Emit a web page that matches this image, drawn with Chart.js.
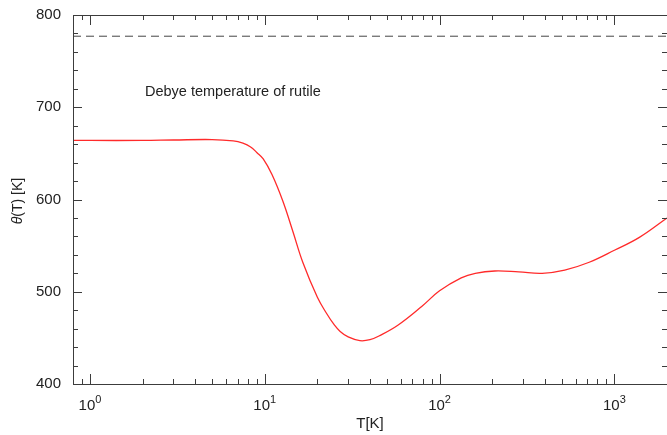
<!DOCTYPE html>
<html>
<head>
<meta charset="utf-8">
<script src="https://cdn.jsdelivr.net/npm/chart.js@4/dist/chart.umd.min.js"></script>
<style>
  body { margin: 0; background: #fff; }
  #wrap { width: 667px; height: 435px; position: relative; }
</style>
</head>
<body>
<div id="wrap"><canvas id="grafica"></canvas></div>
<script>
// datos
const temps = [0.8, 1, 2, 3, 5, 6.6, 7.5, 8.3, 9, 9.8, 11, 12.7, 14.5, 16.5, 20, 22.5, 25, 27, 30, 35, 40, 45, 58, 79, 100, 133, 160, 207, 284, 386, 520, 718, 1000, 1390, 2000];
const theta = [664, 664, 664, 664.5, 665, 663.5, 661, 657, 651, 644, 627, 598, 565, 532, 494, 477, 464, 457, 451, 447, 448, 452, 464, 484, 501, 515, 520, 522.5, 521.5, 520, 523.5, 532, 545, 559, 580];
const debyeHigh = 777;
const xTicks = [1, 10, 100, 1000];
const yTicks = [400, 500, 600, 700, 800];
const label = 'Debye temperature of rutile';

const axisColor = '#3c3c3c';
const textColor = '#222';

// marco, ticks hacia adentro y etiquetas
const ejesPlugin = {
  id: 'ejes',
  afterDraw(chart) {
    const ctx = chart.ctx;
    const a = chart.chartArea;
    const xs = chart.scales.x, ys = chart.scales.y;
    ctx.save();
    ctx.strokeStyle = axisColor;
    ctx.lineWidth = 1;
    ctx.beginPath();
    ctx.moveTo(a.left + 0.5, a.top + 0.5);
    ctx.lineTo(a.right - 0.5, a.top + 0.5);
    ctx.moveTo(a.left + 0.5, a.top);
    ctx.lineTo(a.left + 0.5, a.bottom + 0.5);
    ctx.lineTo(a.right, a.bottom + 0.5);
    ctx.stroke();

    // ticks eje x (log)
    ctx.beginPath();
    for (let d = -1; d <= 3; d++) {
      for (let m = 1; m <= 9; m++) {
        const v = m * Math.pow(10, d);
        if (v < xs.min || v > xs.max) continue;
        const px = Math.round(xs.getPixelForValue(v)) + 0.5;
        const len = m === 1 ? 10 : 5;
        ctx.moveTo(px, a.bottom);
        ctx.lineTo(px, a.bottom - len);
        ctx.moveTo(px, a.top);
        ctx.lineTo(px, a.top + len);
      }
    }
    // ticks eje y
    for (let v = 400; v <= 800; v += 20) {
      const py = Math.round(ys.getPixelForValue(v)) + 0.5;
      const len = v % 100 === 0 ? 9 : 5;
      ctx.moveTo(a.left, py);
      ctx.lineTo(a.left + len, py);
      ctx.moveTo(a.right, py);
      ctx.lineTo(a.right - len, py);
    }
    ctx.stroke();

    ctx.fillStyle = textColor;
    ctx.font = '15px "Liberation Sans", Arial, sans-serif';
    ctx.textAlign = 'right';
    ctx.textBaseline = 'middle';
    yTicks.forEach(v => {
      ctx.fillText(String(v), a.left - 12, ys.getPixelForValue(v));
    });

    // etiquetas x con exponente
    ctx.textBaseline = 'alphabetic';
    xTicks.forEach(v => {
      const e = String(Math.round(Math.log10(v)));
      ctx.font = '15px "Liberation Sans", Arial, sans-serif';
      const w1 = ctx.measureText('10').width;
      ctx.font = '11px "Liberation Sans", Arial, sans-serif';
      const w2 = ctx.measureText(e).width;
      const x0 = xs.getPixelForValue(v) - (w1 + w2) / 2;
      ctx.textAlign = 'left';
      ctx.font = '15px "Liberation Sans", Arial, sans-serif';
      ctx.fillText('10', x0, a.bottom + 26);
      ctx.font = '11px "Liberation Sans", Arial, sans-serif';
      ctx.fillText(e, x0 + w1, a.bottom + 19);
    });

    ctx.textAlign = 'center';
    ctx.font = '15px "Liberation Sans", Arial, sans-serif';
    ctx.fillText('T[K]', 370, a.bottom + 44);

    // titulo eje y
    ctx.save();
    ctx.translate(22, 201);
    ctx.rotate(-Math.PI / 2);
    ctx.textAlign = 'left';
    ctx.font = 'italic 14px "Liberation Sans", Arial, sans-serif';
    const tw = ctx.measureText('θ').width;
    ctx.font = '14px "Liberation Sans", Arial, sans-serif';
    const rw = ctx.measureText('(T) [K]').width;
    const sx = -(tw + rw) / 2;
    ctx.font = 'italic 14px "Liberation Sans", Arial, sans-serif';
    ctx.fillText('θ', sx, 0);
    ctx.font = '14px "Liberation Sans", Arial, sans-serif';
    ctx.fillText('(T) [K]', sx + tw, 0);
    ctx.restore();

    ctx.textAlign = 'left';
    ctx.font = '14.5px "Liberation Sans", Arial, sans-serif';
    ctx.fillText(label, 145, 96);
    ctx.restore();
  }
};

const ctx = document.getElementById('grafica').getContext('2d');
const grafica = new Chart(ctx, {
  type: 'line',
  data: {
    datasets: [{
      data: temps.map((t, i) => ({ x: t, y: theta[i] })),
      borderColor: '#ff2a2a',
      borderWidth: 1.3,
      pointRadius: 0,
      tension: 0.4,
      fill: false
    }, {
      data: [{ x: temps[0], y: debyeHigh }, { x: temps[temps.length - 1], y: debyeHigh }],
      borderColor: '#444',
      borderWidth: 1,
      borderDash: [8, 5],
      pointRadius: 0,
      fill: false
    }]
  },
  plugins: [ejesPlugin],
  options: {
    responsive: true,
    maintainAspectRatio: false,
    animation: false,
    layout: { padding: { left: 73, right: 0, top: 15, bottom: 51 } },
    plugins: { legend: { display: false }, tooltip: { enabled: false } },
    scales: {
      x: { type: 'logarithmic', min: 0.8, max: 2000, display: false },
      y: { type: 'linear', min: 400, max: 800, display: false }
    }
  }
});
</script>
</body>
</html>
